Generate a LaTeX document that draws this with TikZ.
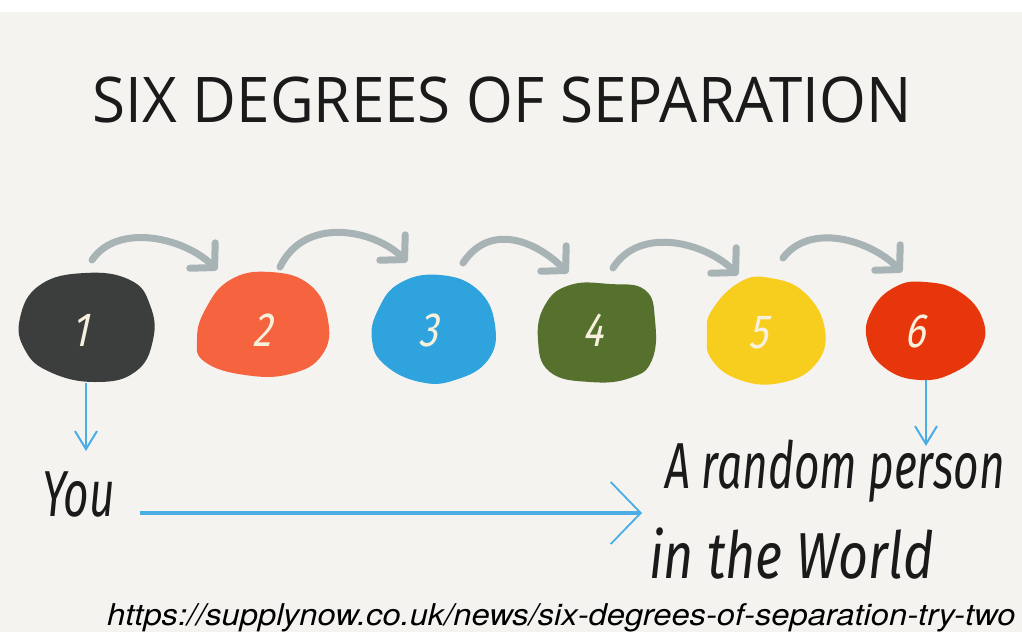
\documentclass[tikz,border=0pt]{standalone}
\usepackage{fontspec}
\usetikzlibrary{arrows.meta}
\newfontfamily\titlefont[FakeStretch=0.955]{Open Sans}
\newfontfamily\handfont[FakeStretch=0.68]{Fira Sans}
\newfontfamily\handwide[FakeStretch=0.8]{Fira Sans}
\newfontfamily\numfont[FakeStretch=0.8,FakeSlant=0.22]{Fira Sans}
\newfontfamily\urlfont[FakeStretch=1.09]{TeX Gyre Heros}
\definecolor{bg}{HTML}{F4F3F0}
\definecolor{cone}{HTML}{3B3E3D}
\definecolor{ctwo}{HTML}{F5643E}
\definecolor{cthree}{HTML}{2EA3DD}
\definecolor{cfour}{HTML}{56702E}
\definecolor{cfive}{HTML}{F7CE1E}
\definecolor{csix}{HTML}{E8360C}
\definecolor{cream}{HTML}{F6F0DC}
\definecolor{agrey}{HTML}{A8B3B5}
\definecolor{lblue}{HTML}{4AADE3}
\definecolor{ink}{HTML}{1A1A1A}
\tikzset{
  num/.style={text=cream, font=\numfont\fontsize{48}{48}\selectfont, inner sep=0pt},
  gconn/.style={draw=agrey, line width=7pt, line cap=round, -{Straight Barb[round,length=17pt,width=36pt]}},
  bconn/.style={draw=lblue, line width=2pt, -{Straight Barb[length=18pt,width=22pt]}},
  hconn/.style={draw=lblue, line width=3.5pt, -{Straight Barb[length=30pt,width=62pt,line width=1.8pt]}},
  hand/.style={text=ink, font=\handfont\itshape\fontsize{65}{65}\selectfont, inner sep=0pt, anchor=base west},
  blobshape/.style={smooth cycle, tension=0.75}
}
\begin{document}
\begin{tikzpicture}[x=1pt,y=-1pt]
\fill[white] (0,0) rectangle (1022,632);
\fill[bg] (0,12) rectangle (1022,632);
\useasboundingbox (0,0) rectangle (1022,632);
% title
\node[font=\titlefont\fontsize{63}{63}\selectfont, text=ink, anchor=base, inner sep=0pt] (title) at (502,122) {SIX DEGREES OF SEPARATION};
% blobs
\fill[cone] plot[blobshape] coordinates {(20,318) (40,285) (85,273) (130,280) (150,305) (153,340) (135,372) (95,382) (50,372) (25,350)};
\fill[ctwo] plot[blobshape] coordinates {(205,310) (230,280) (270,272) (310,285) (328,320) (322,355) (290,374) (245,375) (205,362) (197,340)};
\fill[cthree] plot[blobshape] coordinates {(378,310) (400,283) (440,275) (478,290) (495,325) (488,360) (455,380) (420,382) (385,365) (372,340)};
\fill[cfour] plot[blobshape] coordinates {(545,305) (570,285) (610,284) (645,290) (655,320) (652,360) (630,378) (590,382) (550,372) (538,340)};
\fill[cfive] plot[blobshape] coordinates {(712,310) (740,282) (770,278) (805,293) (825,330) (815,365) (780,383) (740,380) (712,360) (707,335)};
\fill[csix] plot[blobshape] coordinates {(872,310) (895,287) (925,282) (960,292) (983,320) (980,350) (955,372) (920,380) (885,368) (867,340)};
% numbers
\node[num] (b1) at (80,330) {1};
\node[num] (b2) at (262,330) {2};
\node[num] (b3) at (428,330) {3};
\node[num] (b4) at (593,330) {4};
\node[num] (b5) at (758,333) {5};
\node[num] (b6) at (915,331) {6};
% grey arrows
\coordinate (s1) at (92,260);  \coordinate (t1) at (217,270);
\coordinate (s2) at (280,267); \coordinate (t2) at (407,262);
\coordinate (s3) at (463,263); \coordinate (t3) at (568,273);
\coordinate (s4) at (613,268); \coordinate (t4) at (738,275);
\coordinate (s5) at (783,258); \coordinate (t5) at (902,272);
\draw[gconn] (s1) .. controls (118,222) and (185,238) .. (t1);
\draw[gconn] (s2) .. controls (305,215) and (375,230) .. (t2);
\draw[gconn] (s3) .. controls (490,222) and (536,241) .. (t3);
\draw[gconn] (s4) .. controls (640,225) and (706,243) .. (t4);
\draw[gconn] (s5) .. controls (810,222) and (870,240) .. (t5);
% blue arrows
\coordinate (v1a) at (86,383); \coordinate (v1b) at (86,451);
\coordinate (v6a) at (926,380); \coordinate (v6b) at (926,446);
\draw[bconn] (v1a) -- (v1b);
\draw[bconn] (v6a) -- (v6b);
\node[hand] (you) at (42,516) {You};
\node[hand] (rp1) at (665,488) {A random person};
\node[hand, font=\handwide\itshape\fontsize{65}{65}\selectfont] (rp2) at (649,578) {in the World};
\coordinate (h0) at (140,513); \coordinate (h1) at (642,513);
\draw[hconn] (h0) -- (h1);
% url
\node[font=\urlfont\itshape\fontsize{30}{30}\selectfont, text=black, anchor=base west, inner sep=0pt] (url) at (107,625) {https://supplynow.co.uk/news/six-degrees-of-separation-try-two};
\end{tikzpicture}
\end{document}
